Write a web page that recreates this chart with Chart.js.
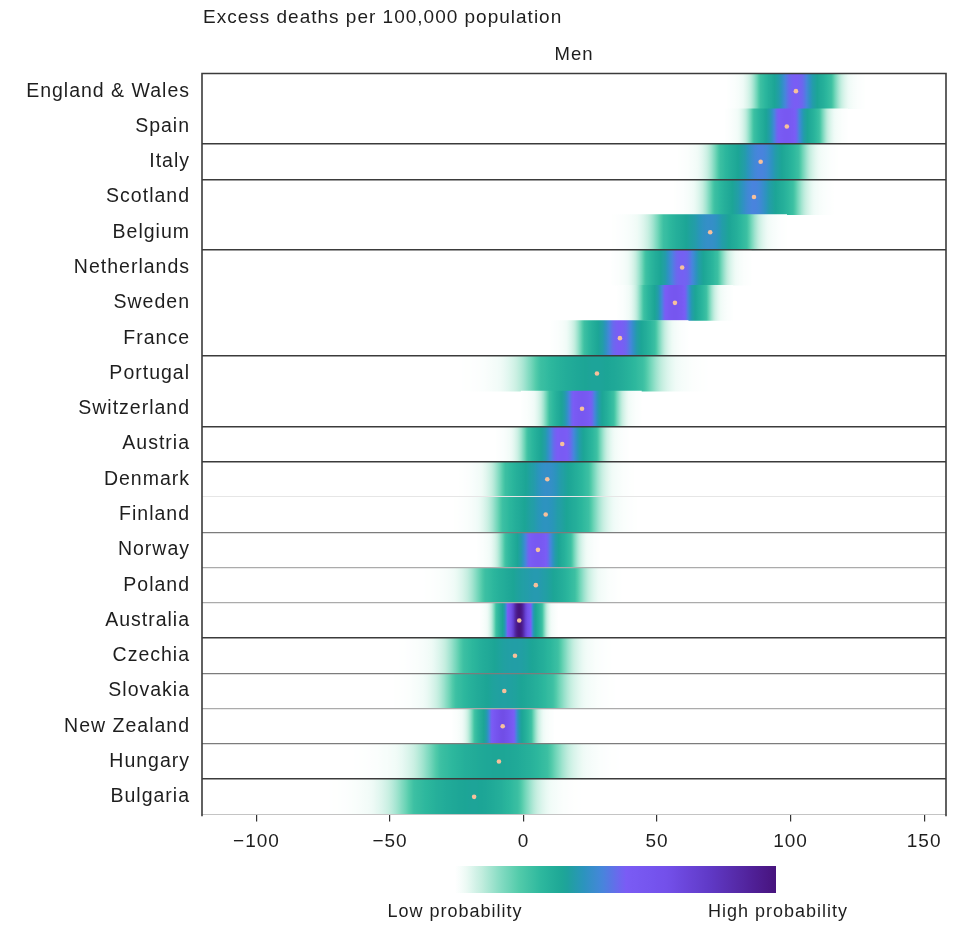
<!DOCTYPE html>
<html>
<head>
<meta charset="utf-8">
<script src="https://cdn.jsdelivr.net/npm/chart.js@4.4.1/dist/chart.umd.min.js"></script>
<style>
  html, body { margin: 0; padding: 0; background: #fff; }
  #wrap { width: 961px; height: 925px; }
</style>
</head>
<body>
<div id="wrap"><canvas id="chart" width="961" height="925"></canvas></div>
<script>
// countries, top to bottom
const countries = ['England & Wales', 'Spain', 'Italy', 'Scotland', 'Belgium', 'Netherlands', 'Sweden',
  'France', 'Portugal', 'Switzerland', 'Austria', 'Denmark', 'Finland', 'Norway', 'Poland', 'Australia',
  'Czechia', 'Slovakia', 'New Zealand', 'Hungary', 'Bulgaria'];
// posterior median and 95% interval, excess deaths per 100,000
const medians = [102, 98.6, 88.8, 86.3, 69.9, 59.4, 56.7, 36.1, 27.5, 21.9, 14.5, 8.9, 8.3, 5.4, 4.6, -1.6, -3.2, -7.2, -7.8, -9.2, -18.5];
const lower95 = [88, 86, 72, 70, 50, 45, 45, 22, 0, 9.5, 1, -9, -10.3, -7, -18, -9.5, -26.7, -29.7, -18, -38.6, -47.9];
const upper95 = [116, 111, 104.5, 102.5, 85.5, 73.5, 68.5, 50, 50, 34, 28, 26.5, 26.9, 18, 22, 6.2, 16.4, 15.3, 2.6, 15.3, 3.1];
// line under each row (except the last): 0 none, 1 faint, 2 light, 3 mid, 4 dark
const separators = [0, 4, 4, 0, 4, 0, 0, 4, 0, 4, 4, 1, 3, 2, 2, 4, 3, 2, 3, 4];
const tickValues = [-100, -50, 0, 50, 100, 150];

const FONT = '"Liberation Sans", Arial, Helvetica, sans-serif';
const SPACING = '1px';
const INK = '#1e1e1e';

// colour scale from low to high probability
const cmapStops = [
  [0.00, [255, 255, 255]], [0.03, [240, 251, 247]], [0.08, [197, 238, 224]],
  [0.14, [134, 220, 195]], [0.20, [82, 203, 170]], [0.27, [44, 183, 157]],
  [0.34, [28, 165, 150]], [0.40, [43, 148, 189]], [0.46, [71, 133, 220]],
  [0.53, [122, 92, 245]], [0.66, [115, 80, 234]], [0.80, [95, 56, 196]],
  [1.00, [71, 19, 125]]
];
// relative density -> position on colour scale
const densityToScale = [[0, 0], [0.005, 0.015], [0.02, 0.05], [0.05, 0.12], [0.1, 0.24], [0.2, 0.3],
  [0.3, 0.34], [0.38, 0.37], [0.44, 0.42], [0.48, 0.46], [0.53, 0.51], [0.58, 0.54], [0.7, 0.62],
  [0.85, 0.75], [1, 1]];

function interp(pts, t) {
  if (t <= pts[0][0]) return pts[0][1];
  for (let k = 1; k < pts.length; k++) {
    if (t <= pts[k][0]) {
      const [t0, a] = pts[k - 1], [t1, b] = pts[k];
      const f = (t - t0) / (t1 - t0);
      if (Array.isArray(a)) return a.map((c, j) => c + (b[j] - c) * f);
      return a + (b - a) * f;
    }
  }
  return pts[pts.length - 1][1];
}
function cmap(p) {
  const c = interp(cmapStops, p);
  return `rgb(${Math.round(c[0])},${Math.round(c[1])},${Math.round(c[2])})`;
}

const sdLow = medians.map((m, i) => (m - lower95[i]) / 1.96);
const sdHigh = medians.map((m, i) => (upper95[i] - m) / 1.96);
const peaks = medians.map((m, i) => 2 / (Math.sqrt(2 * Math.PI) * (sdLow[i] + sdHigh[i])));
const maxPeak = Math.max(...peaks);

function density(i, v) {
  const s = v < medians[i] ? sdLow[i] : sdHigh[i];
  const z = (v - medians[i]) / s;
  return peaks[i] * Math.exp(-z * z / 2) / maxPeak;
}
function span(i) {
  return [medians[i] - 3.6 * sdLow[i], medians[i] + 3.6 * sdHigh[i]];
}

function stripFill(c) {
  const chart = c.chart, xs = chart.scales.x;
  if (c.type !== 'data' || !xs || !chart.chartArea) return 'rgba(0,0,0,0)';
  const i = c.dataIndex;
  const [a, b] = span(i);
  const g = chart.ctx.createLinearGradient(xs.getPixelForValue(a), 0, xs.getPixelForValue(b), 0);
  const n = 140;
  for (let k = 0; k <= n; k++) {
    const v = a + (b - a) * k / n;
    g.addColorStop(k / n, cmap(interp(densityToScale, density(i, v))));
  }
  return g;
}

const toneColor = ['rgba(0,0,0,0)', '#e6e6e6', '#ababab', '#7c7c7c', '#3b3b3b'];
const toneWidth = [0, 1, 1.2, 1.3, 1.6];

const decorations = {
  id: 'decorations',
  beforeUpdate(chart) { chart.ctx.letterSpacing = SPACING; },
  beforeDraw(chart) { chart.ctx.letterSpacing = SPACING; },
  afterDraw(chart) {
    const { ctx, chartArea: a } = chart;
    ctx.save();
    ctx.lineCap = 'square';
    ctx.strokeStyle = '#c4c4c4';
    ctx.lineWidth = 1;
    ctx.beginPath();
    ctx.moveTo(a.left, a.bottom);
    ctx.lineTo(a.right, a.bottom);
    ctx.stroke();
    ctx.strokeStyle = '#3b3b3b';
    ctx.lineWidth = 1.6;
    ctx.beginPath();
    ctx.moveTo(a.left, a.bottom + 1);
    ctx.lineTo(a.left, a.top);
    ctx.lineTo(a.right, a.top);
    ctx.lineTo(a.right, a.bottom + 1);
    ctx.stroke();

    ctx.letterSpacing = SPACING;
    ctx.fillStyle = INK;
    ctx.textBaseline = 'middle';
    ctx.textAlign = 'left';
    ctx.font = '19px ' + FONT;
    ctx.fillText('Excess deaths per 100,000 population', a.left + 1, 18);
    ctx.textAlign = 'center';
    ctx.font = '18.5px ' + FONT;
    ctx.fillText('Men', (a.left + a.right) / 2, 55);

    // colour bar legend
    const x0 = 455, x1 = 776, y0 = 866, h = 27;
    const g = ctx.createLinearGradient(x0, 0, x1, 0);
    for (let k = 0; k <= 60; k++) g.addColorStop(k / 60, cmap(k / 60));
    ctx.fillStyle = g;
    ctx.fillRect(x0, y0, x1 - x0, h);
    ctx.fillStyle = INK;
    ctx.font = '18px ' + FONT;
    ctx.fillText('Low probability', x0, 912);
    ctx.fillText('High probability', x1 + 2, 912);
    ctx.restore();
  }
};

new Chart(document.getElementById('chart'), {
  type: 'bar',
  data: {
    labels: countries,
    datasets: [
      {
        type: 'line',
        label: 'Median',
        data: medians.map((m, i) => ({ x: m, y: countries[i] })),
        showLine: false,
        pointRadius: 2.3,
        pointBackgroundColor: '#f6c09c',
        pointBorderWidth: 0,
        order: 0
      },
      {
        label: 'Posterior',
        data: countries.map((c, i) => span(i)),
        backgroundColor: stripFill,
        borderWidth: 0,
        borderSkipped: false,
        categoryPercentage: 1,
        barPercentage: 1,
        grouped: false,
        order: 1
      }
    ]
  },
  options: {
    indexAxis: 'y',
    responsive: false,
    animation: false,
    layout: { padding: { top: 73.5, right: 15, bottom: 60.5, left: 0 } },
    plugins: { legend: { display: false }, tooltip: { enabled: false }, title: { display: false } },
    scales: {
      x: {
        type: 'linear',
        min: -120.4,
        max: 158.2,
        afterBuildTicks: s => { s.ticks = tickValues.map(v => ({ value: v })); },
        afterFit: s => { s.height = 50; },
        border: { display: false },
        grid: { drawOnChartArea: false, drawTicks: true, tickLength: 7, color: '#333', lineWidth: 1.2 },
        ticks: {
          padding: 9,
          color: INK,
          font: { family: FONT, size: 19 },
          callback: v => v < 0 ? '\u2212' + Math.abs(v) : String(v)
        }
      },
      y: {
        type: 'category',
        afterFit: s => { s.width = 202; },
        border: { display: false },
        grid: {
          z: 1,
          offset: true,
          drawTicks: false,
          color: c => (c.index > 0 && c.index <= separators.length) ? toneColor[separators[c.index - 1]] : 'rgba(0,0,0,0)',
          lineWidth: c => (c.index > 0 && c.index <= separators.length) ? toneWidth[separators[c.index - 1]] : 0
        },
        ticks: { padding: 12, color: INK, font: { family: FONT, size: 19.5 } }
      }
    }
  },
  plugins: [decorations]
});
</script>
</body>
</html>
